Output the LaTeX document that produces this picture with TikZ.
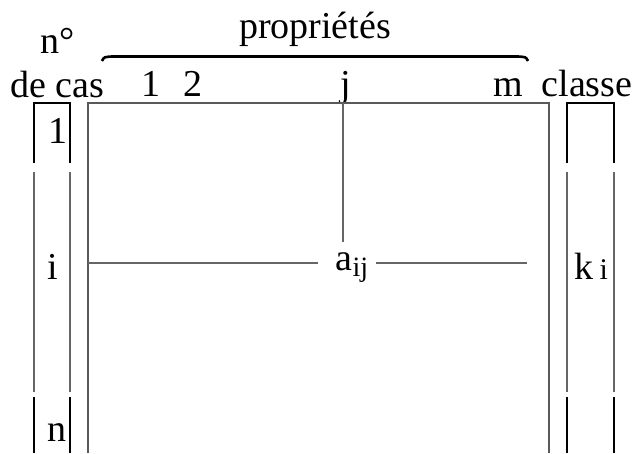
\documentclass[tikz,border=0pt]{standalone}
\usepackage{fontspec}
\setmainfont{Liberation Serif}
\begin{document}
\begin{tikzpicture}[x=1pt,y=-1pt,
  lbl/.style={inner sep=0pt,anchor=base,font=\fontsize{38}{44}\selectfont},
  grayline/.style={draw=black!60,line width=2pt},
  boxline/.style={draw=black!65,line width=2.6pt},
  blackline/.style={draw=black,line width=2.4pt}]
\useasboundingbox (0,0) rectangle (634,453);
% texts
\node[lbl] (nodeg) at (58,53) {n°};
\node[lbl] (decas) at (57,97) {de cas};
\node[lbl] (prop) at (315,38) {propriétés};
\node[lbl] (one) at (151,96) {1};
\node[lbl] (two) at (193,96) {2};
\node[lbl] (jj) at (346,96) {j};
\node[lbl] (mm) at (508,96) {m};
\node[lbl] (classe) at (587,96) {classe};
\node[lbl] (r1) at (58,143) {1};
\node[lbl] (ri) at (53,279) {i};
\node[lbl] (rn) at (57,441) {n};
\node[lbl] (aij) at (352,270) {a\raisebox{-0.35ex}{\fontsize{28}{32}\selectfont ij}};
\node[lbl] (ki) at (591,279) {k\,{\fontsize{30}{34}\selectfont i}};
% brace
\coordinate (bl) at (102,61);
\coordinate (br) at (528,61);
\draw[blackline,line width=2.6pt] (bl) .. controls (104,57) .. (112,56.5) -- (518,56.5) .. controls (526,57) .. (br);
% main box
\coordinate (m0) at (88,453);
\coordinate (m1) at (88,103);
\coordinate (m2) at (549,103);
\coordinate (m3) at (549,453);
\draw[boxline] (m0) -- (m1) -- (m2) -- (m3);
% j line and i line
\coordinate (jt) at (343,103);
\coordinate (jb) at (343,242);
\draw[grayline] (jt) -- (jb);
\coordinate (il) at (88,263);
\coordinate (ia) at (318,263);
\coordinate (ib) at (376,263);
\coordinate (ir) at (527,263);
\draw[grayline] (il) -- (ia);
\draw[grayline] (ib) -- (ir);
% left column
\coordinate (la1) at (34,163);
\coordinate (la2) at (34,103);
\coordinate (la3) at (70,103);
\coordinate (la4) at (70,163);
\draw[blackline] (la1) -- (la2) -- (la3) -- (la4);
\coordinate (lg1) at (34,172);
\coordinate (lg2) at (34,392);
\coordinate (lg3) at (70,172);
\coordinate (lg4) at (70,392);
\draw[grayline] (lg1) -- (lg2);
\draw[grayline] (lg3) -- (lg4);
\coordinate (lb1) at (34,397);
\coordinate (lb2) at (34,453);
\coordinate (lb3) at (70,397);
\coordinate (lb4) at (70,453);
\draw[blackline] (lb1) -- (lb2);
\draw[blackline] (lb3) -- (lb4);
% right column
\coordinate (ra1) at (567,163);
\coordinate (ra2) at (567,103);
\coordinate (ra3) at (614,103);
\coordinate (ra4) at (614,163);
\draw[blackline] (ra1) -- (ra2) -- (ra3) -- (ra4);
\coordinate (rg1) at (567,172);
\coordinate (rg2) at (567,392);
\coordinate (rg3) at (614,172);
\coordinate (rg4) at (614,392);
\draw[grayline] (rg1) -- (rg2);
\draw[grayline] (rg3) -- (rg4);
\coordinate (rb1) at (567,397);
\coordinate (rb2) at (567,453);
\coordinate (rb3) at (614,397);
\coordinate (rb4) at (614,453);
\draw[blackline] (rb1) -- (rb2);
\draw[blackline] (rb3) -- (rb4);
\end{tikzpicture}
\end{document}
